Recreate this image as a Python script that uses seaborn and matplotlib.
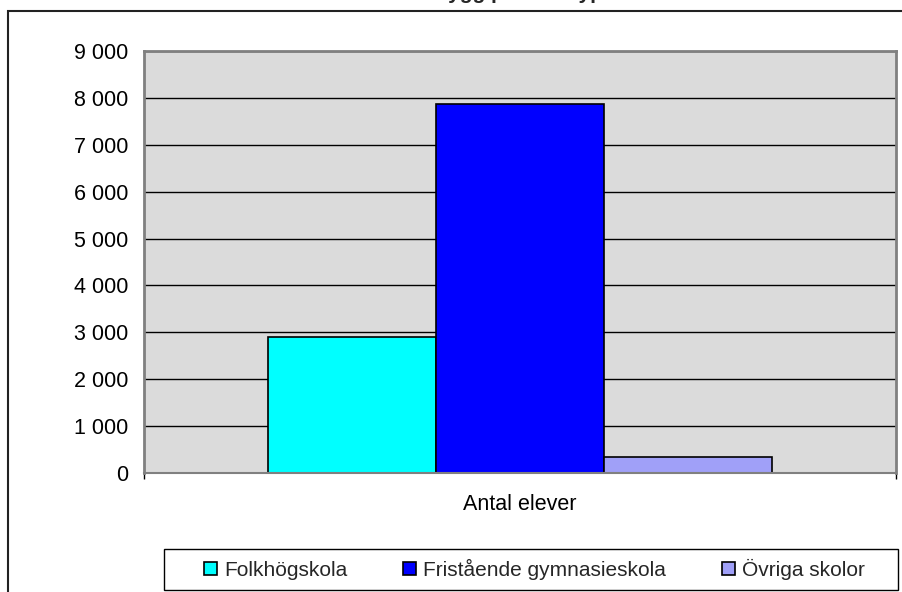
import matplotlib
matplotlib.use("Agg")
import matplotlib.pyplot as plt
import matplotlib.ticker as mticker
from matplotlib.patches import Rectangle
import seaborn as sns
import pandas as pd

# data
category = ["Antal elever"]
schools = ["Folkhögskola", "Fristående gymnasieskola", "Övriga skolor"]
counts = [2890, 7870, 340]
colors = ["#00FFFF", "#0000FF", "#A0A0F8"]
title = "Antal elever i bygg per skoltyp"

df = pd.DataFrame({
    "kategori": category * len(schools),
    "skola": schools,
    "antal": counts,
})

sns.set_theme(style="white")
plt.rcParams["font.family"] = ["Liberation Sans", "DejaVu Sans"]

W, H = 902, 592
fig = plt.figure(figsize=(W / 100, H / 100), dpi=100)
ax = fig.add_axes([144 / W, 1 - 473 / H, (896 - 144) / W, (473 - 51) / H])

sns.barplot(data=df, x="kategori", y="antal", hue="skola", hue_order=schools,
            palette=colors, width=0.67, saturation=1, edgecolor="black",
            linewidth=1.2, ax=ax, legend=True)

ax.set_facecolor("#DBDBDB")
ax.set_ylim(0, 9000)
ax.set_xlim(-0.5, 0.5)
ax.yaxis.set_major_locator(mticker.MultipleLocator(1000))
ax.yaxis.set_major_formatter(mticker.FuncFormatter(lambda v, p: f"{int(v):,}".replace(",", " ")))
ax.grid(axis="y", color="black", linewidth=1)
ax.set_axisbelow(True)
ax.set_xlabel("")
ax.set_ylabel("")
ax.set_xticks([-0.5, 0.5], minor=True)
ax.tick_params(axis="x", which="minor", length=4.5, width=1, color="black",
               direction="out", bottom=True)
ax.tick_params(axis="x", which="major", length=0, labelsize=15.5, pad=15)
ax.tick_params(axis="y", length=4.5, width=1, color="black", direction="out",
               labelsize=15.5, pad=7, labelcolor="black")
ax.tick_params(axis="x", labelcolor="black")
for side in ["top", "right", "left"]:
    ax.spines[side].set_color("#808080")
    ax.spines[side].set_linewidth(2)
ax.spines["bottom"].set_color("#808080")
ax.spines["bottom"].set_linewidth(1.5)

handles, labels = ax.get_legend_handles_labels()
ax.get_legend().remove()
leg = fig.legend(handles, labels, ncol=3, loc="center",
                 bbox_to_anchor=((197 + 872) / 2 / W, 1 - 569.5 / H),
                 fontsize=15, frameon=False,
                 handlelength=0.6, handleheight=0.6, handletextpad=0.35,
                 columnspacing=2.7, borderpad=0)

# legend frame drawn separately so its padding matches the reference
fig.patches.append(Rectangle((164 / W, 1 - 590 / H), (898 - 164) / W, 41 / H,
                             transform=fig.transFigure, fill=False,
                             edgecolor="black", linewidth=1, zorder=1))

# outer chart border (continues past the right and bottom edges)
fig.patches.append(Rectangle((8 / W, -0.1), 1.2, 1 - 11 / H + 0.1,
                             transform=fig.transFigure, fill=False,
                             edgecolor="#222222", linewidth=1.5, zorder=0))

# title sits mostly above the visible area, as in the reference
fig.text(0.5, 1 + 1 / H, title, ha="center", va="baseline",
         fontsize=15, fontweight="bold")

fig.savefig("out.png", dpi=100)
